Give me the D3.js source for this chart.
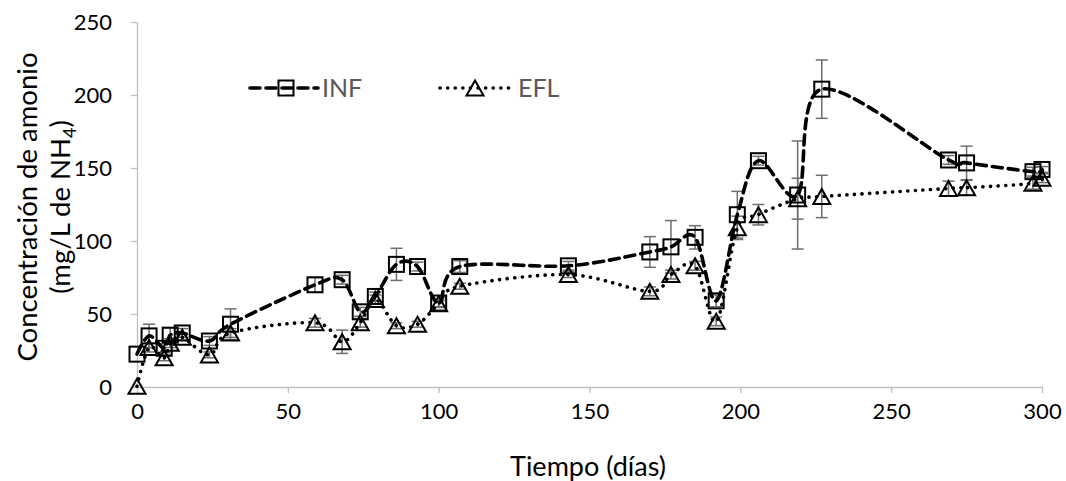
<!DOCTYPE html>
<html><head><meta charset="utf-8">
<script src="https://cdn.jsdelivr.net/npm/d3@7"></script>
<style>body{margin:0;background:#fff;} text{font-family:Lato,"Noto Sans",sans-serif;}</style>
</head><body>
<svg id="c" width="1066" height="481"></svg>
<script>
const infDays = [0,4,9,11,15,24,31,59,68,74,79,86,93,100,107,143,170,177,185,192,199,206,219,227,269,275,297,300];
const infValues = [22.5,35,26.5,35.5,37,31.5,43,70,73.5,51.5,62,84,82.5,57.5,82.5,83,92.5,96,102.5,59,118,155,131.5,204,155.5,153.5,147.5,149];
const infErrors = [0,8,3,5,3,3,10.5,5,3,3,3,11,3,3,4,3,10.5,18,8,4,16,3,37,20,3,11.5,3,2];
const eflDays = [0,4,9,11,15,24,31,59,68,74,79,86,93,100,107,143,170,177,185,192,199,206,219,227,269,275,297,300];
const eflValues = [0.5,27,20,30,34,22,37,44,31,44,60,42,43,57,69,77,65.5,77,83,45,109,118,129,130.5,136,136.5,139.5,143];
const eflErrors = [0,3,2,3,2,2,3,3,8,3,3,2,2,2,2,2,3,3,3,3,8,7,14,14.5,5,5,4,3];
const xTicks = [0,50,100,150,200,250,300];
const yTicks = [0,50,100,150,200,250];
const seriesNames = ["INF","EFL"];

const svg = d3.select("#c");
const x = d3.scaleLinear([0,300],[137,1042]);
const y = d3.scaleLinear([0,250],[387,22]);
const axisColor = "#bfbfbf";

// axes
const gx = svg.append("g").attr("transform","translate(0,387)")
  .call(d3.axisBottom(x).tickValues(xTicks).tickSize(6).tickSizeOuter(0).tickPadding(7));
const gy = svg.append("g").attr("transform","translate(137,0)")
  .call(d3.axisLeft(y).tickValues(yTicks).tickSize(6).tickSizeOuter(0).tickPadding(19));
[gx,gy].forEach(g=>{
  g.select(".domain").attr("stroke",axisColor).attr("stroke-width",1.3);
  g.selectAll(".tick line").attr("stroke",axisColor).attr("stroke-width",1.3);
  g.selectAll(".tick text").attr("fill","#000").style("font-size","22px").style("font-family","Lato,'Noto Sans',sans-serif");
});
gx.selectAll(".tick text").attr("dy","0.85em");
gy.selectAll(".tick text").attr("dy","0.35em");

// axis titles
svg.append("text").attr("x",588).attr("y",476).attr("text-anchor","middle")
  .style("font-size","27px").text("Tiempo (días)");
const yt = svg.append("g").attr("transform","translate(0,207) rotate(-90)");
yt.append("text").attr("x",0).attr("y",37).attr("text-anchor","middle").style("font-size","27.5px").text("Concentración de amonio");
const t2 = yt.append("text").attr("x",0).attr("y",70).attr("text-anchor","middle").style("font-size","27.5px");
t2.append("tspan").text("(mg/L de NH");
t2.append("tspan").attr("dy",6).style("font-size","18px").text("4");
t2.append("tspan").attr("dy",-6).text(")");

const inf = infDays.map((d,i)=>({t:d,v:infValues[i],e:infErrors[i]}));
const efl = eflDays.map((d,i)=>({t:d,v:eflValues[i],e:eflErrors[i]}));

// error bars
function errBars(data){
  const g = svg.append("g").attr("stroke","#6e6e6e").attr("stroke-width",1.5);
  data.filter(d=>d.e>0).forEach(d=>{
    const cx=x(d.t), y1=y(d.v+d.e), y2=y(d.v-d.e);
    g.append("line").attr("x1",cx).attr("x2",cx).attr("y1",y1).attr("y2",y2);
    g.append("line").attr("x1",cx-6).attr("x2",cx+6).attr("y1",y1).attr("y2",y1);
    g.append("line").attr("x1",cx-6).attr("x2",cx+6).attr("y1",y2).attr("y2",y2);
  });
}
errBars(inf); errBars(efl);

const line = d3.line().x(d=>x(d.t)).y(d=>y(d.v)).curve(d3.curveCardinal.tension(0));
svg.append("path").datum(inf).attr("d",line).attr("fill","none").attr("stroke","#000")
  .attr("stroke-width",3.6).attr("stroke-dasharray","10,6").attr("stroke-linecap","round");
svg.append("path").datum(efl).attr("d",line).attr("fill","none").attr("stroke","#000")
  .attr("stroke-width",3.6).attr("stroke-dasharray","0.1,7.5").attr("stroke-linecap","round");

const tri = "M0,-7.5L8.5,7.5L-8.5,7.5Z";
function sq(g,cx,cy){ g.append("rect").attr("x",cx-7.5).attr("y",cy-7.5).attr("width",15).attr("height",15)
  .attr("fill","none").attr("stroke","#000").attr("stroke-width",2); }
function tr(g,cx,cy){ g.append("path").attr("d",tri).attr("transform",`translate(${cx},${cy})`)
  .attr("fill","none").attr("stroke","#000").attr("stroke-width",2); }
const mk = svg.append("g");
inf.forEach(d=>sq(mk,x(d.t),y(d.v)));
efl.forEach(d=>tr(mk,x(d.t),y(d.v)));

// legend
const lg = svg.append("g");
lg.append("line").attr("x1",250).attr("x2",318).attr("y1",88).attr("y2",88).attr("stroke","#000")
  .attr("stroke-width",3.6).attr("stroke-dasharray","10,6").attr("stroke-linecap","round");
sq(lg,286,88);
lg.append("text").attr("x",322).attr("y",97).attr("fill","#595959").style("font-size","25px").text(seriesNames[0]);
lg.append("line").attr("x1",440).attr("x2",511).attr("y1",88).attr("y2",88).attr("stroke","#000")
  .attr("stroke-width",3.6).attr("stroke-dasharray","0.1,7.5").attr("stroke-linecap","round");
tr(lg,475,88);
lg.append("text").attr("x",518).attr("y",97).attr("fill","#595959").style("font-size","25px").text(seriesNames[1]);
</script>
</body></html>
